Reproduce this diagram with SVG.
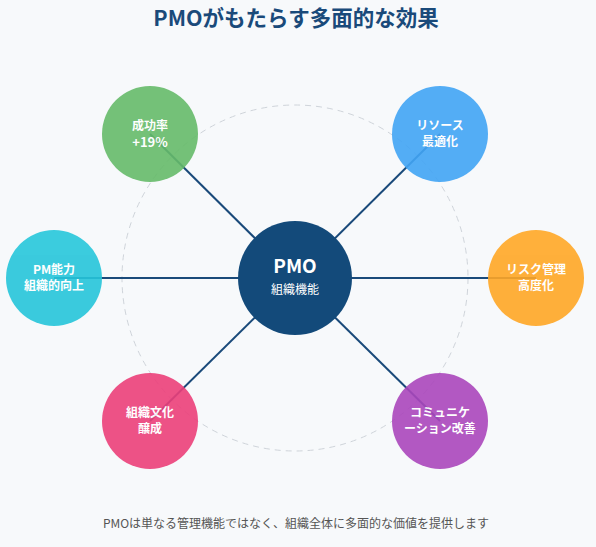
<svg xmlns="http://www.w3.org/2000/svg" width="596" height="547" viewBox="0 0 596 547">
<style>
text{font-family:"Noto Sans CJK JP","Noto Sans",sans-serif;text-anchor:middle}
.t{font-size:21.5px;font-weight:700;fill:#1a4a7a}
.n{font-size:12px;font-weight:700;fill:#fff}
.sat{opacity:0.9}
.ln{stroke:#1a4a7a;stroke-width:2}
.f{font-size:12px;fill:#555}
</style>
<rect width="596" height="547" fill="#f7f9fb"/>
<text class="t" x="296" y="26">PMOがもたらす多面的な効果</text>
<circle cx="295" cy="278" r="173" fill="none" stroke="#cfd4da" stroke-width="1" stroke-dasharray="6 5"/>
<g id="connectors">
<line class="ln" x1="295" y1="278" x2="150" y2="134"/>
<line class="ln" x1="295" y1="278" x2="440" y2="134"/>
<line class="ln" x1="295" y1="278" x2="54" y2="278"/>
<line class="ln" x1="295" y1="278" x2="536" y2="278"/>
<line class="ln" x1="295" y1="278" x2="150" y2="421"/>
<line class="ln" x1="295" y1="278" x2="440" y2="421"/>
</g>
<g id="center"><circle cx="295" cy="278" r="57" fill="#134a7a"/>
<text x="295" y="273" style="font-size:19px;font-weight:700;fill:#fff">PMO</text>
<text x="295" y="294" style="font-size:12px;fill:#fff">組織機能</text></g>
<g id="n1" class="sat"><circle cx="150" cy="134" r="48" fill="#66bb6a"/>
<text class="n" x="150" y="130">成功率</text><text class="n" x="150" y="147" style="font-size:13px">+19%</text></g>
<g id="n2" class="sat"><circle cx="440" cy="134" r="48" fill="#42a5f5"/>
<text class="n" x="440" y="130">リソース</text><text class="n" x="440" y="146">最適化</text></g>
<g id="n3" class="sat"><circle cx="54" cy="278" r="48" fill="#26c6da"/>
<text class="n" x="54" y="274">PM能力</text><text class="n" x="54" y="290">組織的向上</text></g>
<g id="n4" class="sat"><circle cx="536" cy="278" r="48" fill="#ffa726"/>
<text class="n" x="536" y="274">リスク管理</text><text class="n" x="536" y="290">高度化</text></g>
<g id="n5" class="sat"><circle cx="150" cy="421" r="48" fill="#ec407a"/>
<text class="n" x="150" y="417">組織文化</text><text class="n" x="150" y="433">醸成</text></g>
<g id="n6" class="sat"><circle cx="440" cy="421" r="48" fill="#ab47bc"/>
<text class="n" x="440" y="417">コミュニケ</text><text class="n" x="440" y="433">ーション改善</text></g>
<text class="f" x="296" y="528">PMOは単なる管理機能ではなく、組織全体に多面的な価値を提供します</text>
</svg>
